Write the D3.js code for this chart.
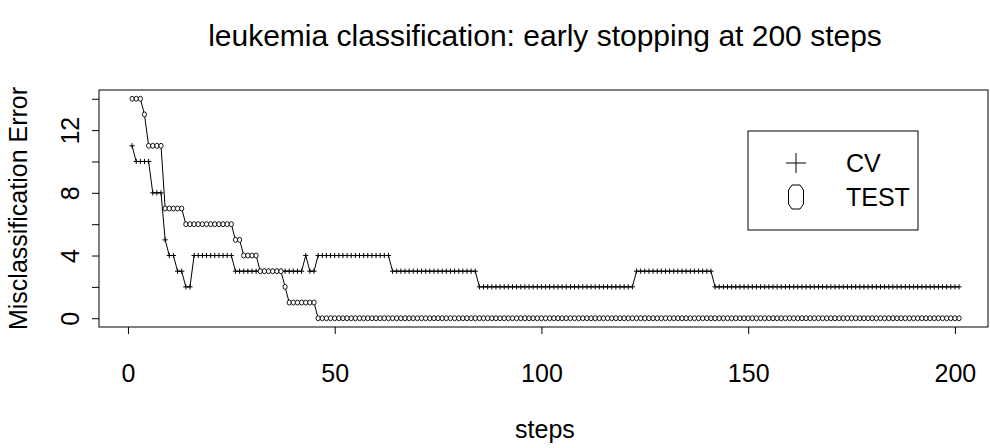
<!DOCTYPE html>
<html>
<head>
<meta charset="utf-8">
<script src="https://cdn.jsdelivr.net/npm/d3@7"></script>
<style>
  body { margin: 0; background: #fff; }
  svg { display: block; font-family: "Liberation Sans", Arial, sans-serif; }
</style>
</head>
<body>
<svg width="990" height="448"></svg>
<script>
// misclassification error per step (steps 1..201)
var cvError = [
    11,
    10, 10, 10, 10,
    8, 8, 8,
    5,
    4, 4,
    3, 3,
    2, 2,
    4, 4, 4, 4, 4, 4, 4, 4, 4, 4,
    3, 3, 3, 3, 3, 3, 3, 3, 3, 3, 3, 3, 3, 3, 3, 3, 3,
    4,
    3, 3,
    4, 4, 4, 4, 4, 4, 4, 4, 4, 4, 4, 4, 4, 4, 4, 4, 4, 4,
    3, 3, 3, 3, 3, 3, 3, 3, 3, 3, 3, 3, 3, 3, 3, 3, 3, 3, 3, 3, 3,
    2, 2, 2, 2, 2, 2, 2, 2, 2, 2, 2, 2, 2, 2, 2, 2, 2, 2, 2, 2,
    2, 2, 2, 2, 2, 2, 2, 2, 2, 2, 2, 2, 2, 2, 2, 2, 2, 2,
    3, 3, 3, 3, 3, 3, 3, 3, 3, 3, 3, 3, 3, 3, 3, 3, 3, 3, 3,
    2, 2, 2, 2, 2, 2, 2, 2, 2, 2, 2, 2, 2, 2, 2, 2, 2, 2, 2, 2,
    2, 2, 2, 2, 2, 2, 2, 2, 2, 2, 2, 2, 2, 2, 2, 2, 2, 2, 2, 2,
    2, 2, 2, 2, 2, 2, 2, 2, 2, 2, 2, 2, 2, 2, 2, 2, 2, 2, 2, 2
];
var testError = [
    14, 14, 14,
    13,
    11, 11, 11, 11,
    7, 7, 7, 7, 7,
    6, 6, 6, 6, 6, 6, 6, 6, 6, 6, 6, 6,
    5, 5,
    4, 4, 4, 4,
    3, 3, 3, 3, 3, 3,
    2,
    1, 1, 1, 1, 1, 1, 1,
    0, 0, 0, 0, 0, 0, 0, 0, 0, 0, 0, 0, 0, 0, 0, 0, 0, 0, 0, 0,
    0, 0, 0, 0, 0, 0, 0, 0, 0, 0, 0, 0, 0, 0, 0, 0, 0, 0, 0, 0,
    0, 0, 0, 0, 0, 0, 0, 0, 0, 0, 0, 0, 0, 0, 0, 0, 0, 0, 0, 0,
    0, 0, 0, 0, 0, 0, 0, 0, 0, 0, 0, 0, 0, 0, 0, 0, 0, 0, 0, 0,
    0, 0, 0, 0, 0, 0, 0, 0, 0, 0, 0, 0, 0, 0, 0, 0, 0, 0, 0, 0,
    0, 0, 0, 0, 0, 0, 0, 0, 0, 0, 0, 0, 0, 0, 0, 0, 0, 0, 0, 0,
    0, 0, 0, 0, 0, 0, 0, 0, 0, 0, 0, 0, 0, 0, 0, 0, 0, 0, 0, 0,
    0, 0, 0, 0, 0, 0, 0, 0, 0, 0, 0, 0, 0, 0, 0, 0
];
var xTicks = [0, 50, 100, 150, 200];
var yTicks = [0, 2, 4, 6, 8, 10, 12, 14];
var yTickLabels = [0, 4, 8, 12];
var legendNames = ["CV", "TEST"];

var svg = d3.select("svg");
// plot box (don't use "top" - clashes with window.top)
var boxL = 99, boxR = 988, boxT = 90, boxB = 327;
var fontSize = 25;

var x = d3.scaleLinear().domain([-7, 208]).range([boxL, boxR]);
var y = d3.scaleLinear().domain([-0.56, 14.56]).range([boxB, boxT]);

svg.append("rect")
    .attr("x", boxL).attr("y", boxT)
    .attr("width", boxR - boxL).attr("height", boxB - boxT)
    .attr("fill", "none").attr("stroke", "#000").attr("stroke-width", 1);

// x axis
var xAxis = svg.append("g")
    .attr("transform", "translate(0," + boxB + ")")
    .call(d3.axisBottom(x).tickValues(xTicks).tickSize(7).tickPadding(30));
xAxis.select(".domain").remove();
xAxis.selectAll("text").attr("font-size", fontSize).attr("fill", "#000")
    .attr("font-family", "Liberation Sans, Arial, sans-serif");

// y axis, labels rotated like R
var yAxis = svg.append("g")
    .attr("transform", "translate(" + boxL + ",0)")
    .call(d3.axisLeft(y).tickValues(yTicks).tickSize(7)
        .tickFormat(function (d) { return yTickLabels.indexOf(d) >= 0 ? d : ""; }));
yAxis.select(".domain").remove();
yAxis.selectAll("text")
    .attr("font-size", fontSize).attr("fill", "#000")
    .attr("font-family", "Liberation Sans, Arial, sans-serif")
    .attr("text-anchor", "middle")
    .attr("dy", null)
    .attr("x", null)
    .attr("transform", "translate(-20,0) rotate(-90)");

// series lines
var line = d3.line()
    .x(function (d, i) { return x(i + 1); })
    .y(function (d) { return y(d); });

svg.append("path").datum(cvError)
    .attr("d", line).attr("fill", "none").attr("stroke", "#000").attr("stroke-width", 1);
svg.append("path").datum(testError)
    .attr("d", line).attr("fill", "none").attr("stroke", "#000").attr("stroke-width", 1);

// markers
svg.append("g").selectAll("path")
    .data(cvError).enter().append("path")
    .attr("d", "M-2.6,0H2.6M0,-2.6V2.6")
    .attr("transform", function (d, i) { return "translate(" + x(i + 1) + "," + y(d) + ")"; })
    .attr("stroke", "#000").attr("stroke-width", 1);

svg.append("g").selectAll("ellipse")
    .data(testError).enter().append("ellipse")
    .attr("cx", function (d, i) { return x(i + 1); })
    .attr("cy", function (d) { return y(d); })
    .attr("rx", 2.1).attr("ry", 2.5)
    .attr("fill", "#fff").attr("stroke", "#000").attr("stroke-width", 0.9);

// legend
var lg = svg.append("g");
lg.append("rect")
    .attr("x", 748).attr("y", 131).attr("width", 170).attr("height", 99)
    .attr("fill", "#fff").attr("stroke", "#000").attr("stroke-width", 1);
lg.append("path")
    .attr("d", "M786,163H806M796,153V173")
    .attr("stroke", "#000").attr("stroke-width", 1);
lg.append("path")
    .attr("d", "M792,185L800,185L803.5,190L803.5,204L800,209L792,209L788.5,204L788.5,190Z")
    .attr("fill", "none").attr("stroke", "#000").attr("stroke-width", 1);
lg.selectAll("text").data(legendNames).enter().append("text")
    .attr("x", 846)
    .attr("y", function (d, i) { return 172 + i * 34; })
    .attr("font-size", fontSize)
    .text(function (d) { return d; });

// titles
svg.append("text")
    .attr("x", 545).attr("y", 46)
    .attr("text-anchor", "middle").attr("font-size", 30)
    .text("leukemia classification: early stopping at 200 steps");
svg.append("text")
    .attr("x", 545).attr("y", 438)
    .attr("text-anchor", "middle").attr("font-size", fontSize)
    .text("steps");
svg.append("text")
    .attr("transform", "translate(27," + ((boxT + boxB) / 2) + ") rotate(-90)")
    .attr("text-anchor", "middle").attr("font-size", fontSize)
    .text("Misclassification Error");
</script>
</body>
</html>
